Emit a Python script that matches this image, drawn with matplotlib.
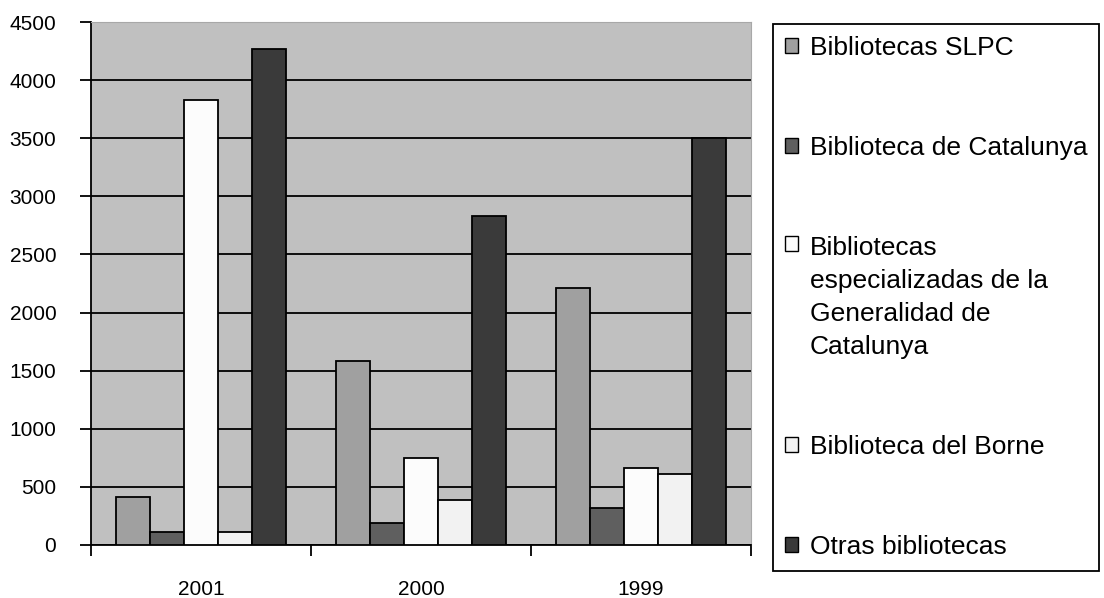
import matplotlib.pyplot as plt
import numpy as np

plt.rcParams["font.family"] = ["Liberation Sans", "DejaVu Sans"]

years = ["2001", "2000", "1999"]
labels = ["Bibliotecas SLPC", "Biblioteca de Catalunya",
          "Bibliotecas\nespecializadas de la\nGeneralidad de\nCatalunya",
          "Biblioteca del Borne", "Otras bibliotecas"]
slpc = [410, 1580, 2210]
catalunya = [115, 190, 320]
especializadas = [3830, 750, 660]
borne = [115, 390, 610]
otras = [4270, 2830, 3500]
series = [slpc, catalunya, especializadas, borne, otras]
colors = ["#a0a0a0", "#5f5f5f", "#fcfcfc", "#f2f2f2", "#3a3a3a"]

fig = plt.figure(figsize=(11.04, 5.98), dpi=100)
ax = fig.add_axes([91/1104, 53/598, 660/1104, 523/598])
ax.set_facecolor("#c0c0c0")

x = np.arange(len(years))
w = 0.155
for i, (vals, c, lab) in enumerate(zip(series, colors, labels)):
    ax.bar(x + (i - 2) * w, vals, w, color=c, edgecolor="black", linewidth=1.3,
           label=lab, zorder=3)

ax.set_xlim(-0.5, 2.5)
ax.set_ylim(0, 4500)
ax.set_yticks(range(0, 4501, 500))
ax.yaxis.grid(True, color="black", linewidth=1.3, zorder=1)
ax.set_axisbelow(True)
ax.set_xticks(x)
ax.set_xticklabels(years)
ax.set_xticks([-0.5, 0.5, 1.5, 2.5], minor=True)
ax.tick_params(axis="x", which="major", length=0, pad=25, labelsize=15)
ax.tick_params(axis="x", which="minor", length=8, width=1.3, direction="out")
ax.tick_params(axis="y", length=8, width=1.3, direction="out", labelsize=15, pad=17)
for s in ["left", "bottom"]:
    ax.spines[s].set_linewidth(1.3)
for s in ["top", "right"]:
    ax.spines[s].set_color("#a8a8a8")

leg = fig.legend(loc="upper left", bbox_to_anchor=(773/1104, 1 - 24/598),
                 fontsize=19, handlelength=0.5, handleheight=0.5,
                 handletextpad=0.45, labelspacing=2.88, borderpad=0.45,
                 borderaxespad=0, fancybox=False, edgecolor="black",
                 framealpha=1)
leg.get_frame().set_linewidth(1.3)
for h in leg.legend_handles:
    h.set_linewidth(1)
leg.get_texts()[2].set_linespacing(1.47)
# put the square next to the first line of the wrapped entry
rows = leg._legend_handle_box.get_children()[0].get_children()
rows[2].align = "top"

fig.savefig("out.png", dpi=100)
